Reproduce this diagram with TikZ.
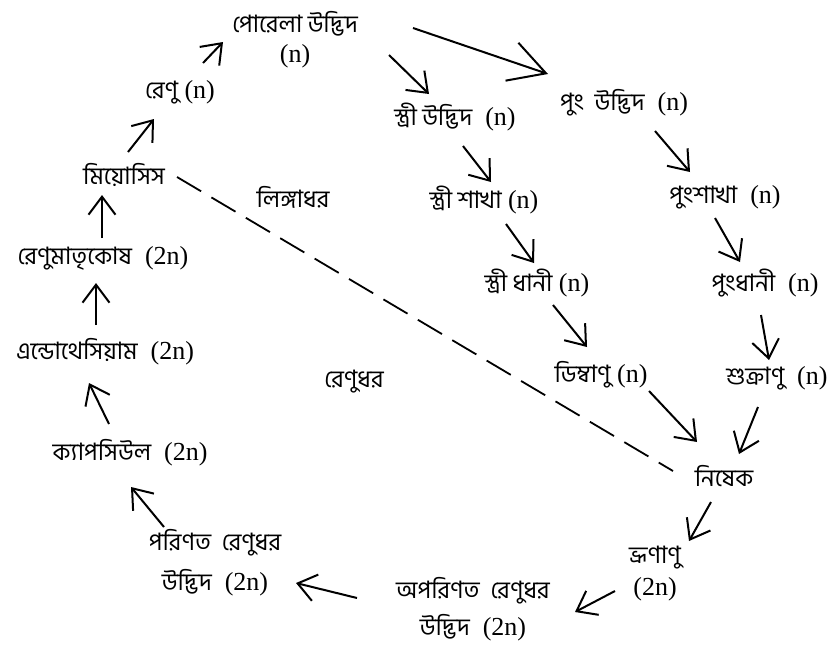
\documentclass[tikz,border=0pt]{standalone}
\usepackage{fontspec}
\setmainfont{Liberation Serif}
\newfontfamily\bnfont[Script=Bengali]{Hind Siliguri}
\usetikzlibrary{arrows.meta,calc}
\newcommand\bn[1]{{\bnfont\fontsize{24}{30}\selectfont #1}}
\tikzset{
  lbl/.style={inner sep=0pt, font=\fontsize{26}{30}\selectfont, align=center},
  flow/.style={line width=2pt, -{Straight Barb[length=18pt,width=27pt,line width=2pt]}},
  bigflow/.style={line width=2pt, -{Straight Barb[length=36pt,width=40pt,line width=2pt]}},
  split/.style={line width=1.8pt, dash pattern=on 28pt off 12pt},
}
\begin{document}
\begin{tikzpicture}[x=1pt,y=-1pt]
\useasboundingbox (0,0) rectangle (829,649);

% sporophyte / gametophyte cycle
\node[lbl] (porella)    at (295,40)  {\bn{পোরেলা উদ্ভিদ}\\(n)};
\node[lbl] (renu)       at (180,92)  {\bn{রেণু} (n)};
\node[lbl] (meiosis)    at (124,175) {\bn{মিয়োসিস}};
\node[lbl] (renumatri)  at (103,258) {\bn{রেণুমাতৃকোষ} \ (2n)};
\node[lbl] (endo)       at (105,352) {\bn{এন্ডোথেসিয়াম} \ (2n)};
\node[lbl] (capsule)    at (130,453) {\bn{ক্যাপসিউল} \ (2n)};
\node[lbl] (mature)     at (215,563) {\bn{পরিণত \ রেণুধর}\\[10pt]\bn{উদ্ভিদ} \ (2n)};
\node[lbl] (immature)   at (473,609) {\bn{অপরিণত \ রেণুধর}\\[7pt]\bn{উদ্ভিদ} \ (2n)};
\node[lbl] (embryo)     at (655,574) {\bn{ভ্রূণাণু}\\[2pt](2n)};
\node[lbl] (nishek)     at (724,476) {\bn{নিষেক}};
\node[lbl] (dimba)      at (601,375) {\bn{ডিম্বাণু} (n)};
\node[lbl] (shukra)     at (777,378) {\bn{শুক্রাণু} \ (n)};
\node[lbl] (stridhani)  at (537,283) {\bn{স্ত্রী ধানী} (n)};
\node[lbl] (pungdhani)  at (765,283) {\bn{পুংধানী} \ (n)};
\node[lbl] (strishakha) at (484,200) {\bn{স্ত্রী শাখা} (n)};
\node[lbl] (pungshakha) at (725,197) {\bn{পুংশাখা} \ (n)};
\node[lbl] (striudbhid) at (455,117) {\bn{স্ত্রী উদ্ভিদ} \ (n)};
\node[lbl] (pungudbhid) at (624,103) {\bn{পুং \ উদ্ভিদ} \ (n)};
\node[lbl] (lingadhar)  at (293,197) {\bn{লিঙ্গাধর}};
\node[lbl] (renudhar)   at (354,382) {\bn{রেণুধর}};

% arrows of the cycle
\draw[flow] ($(meiosis)+(4,-23)$)     -- ($(renu)+(-26,27)$);
\draw[flow] ($(renu)+(23,-29)$)       -- ($(porella)+(-72,2)$);
\draw[flow] ($(renumatri)+(-1,-20)$)  -- ($(meiosis)+(-22,20)$);
\draw[flow] ($(endo)+(-9,-27)$)       -- ($(renumatri)+(-7,25)$);
\draw[flow] ($(capsule)+(-21,-29)$)   -- ($(endo)+(-16,31)$);
\draw[flow] ($(mature)+(-51,-36)$)    -- ($(capsule)+(1,34)$);
\draw[flow] ($(immature)+(-116,-11)$) -- ($(mature)+(81,20)$);
\draw[flow] ($(embryo)+(-40,17)$)     -- ($(immature)+(102,3)$);
\draw[flow] ($(nishek)+(-13,26)$)     -- ($(embryo)+(34,-33)$);
\draw[flow] ($(dimba)+(48,16)$)       -- ($(nishek)+(-27,-34)$);
\draw[flow] ($(shukra)+(-19,29)$)     -- ($(nishek)+(15,-22)$);
\draw[flow] ($(stridhani)+(16,22)$)   -- ($(dimba)+(-14,-28)$);
\draw[flow] ($(pungdhani)+(-4,32)$)   -- ($(shukra)+(-8,-18)$);
\draw[flow] ($(strishakha)+(22,24)$)  -- ($(stridhani)+(-3,-20)$);
\draw[flow] ($(pungshakha)+(-10,21)$) -- ($(pungdhani)+(-25,-21)$);
\draw[flow] ($(striudbhid)+(8,29)$)   -- ($(strishakha)+(7,-18)$);
\draw[flow] ($(pungudbhid)+(31,28)$)  -- ($(pungshakha)+(-35,-25)$);
\draw[flow] ($(porella)+(94,15)$)     -- ($(striudbhid)+(-26,-23)$);
\draw[bigflow] ($(porella)+(118,-12)$) -- ($(pungudbhid)+(-76,-29)$);

% boundary between the two generations
\draw[split] ($(meiosis)+(53,2)$) -- ($(nishek)+(-51,-5)$);
\end{tikzpicture}
\end{document}
